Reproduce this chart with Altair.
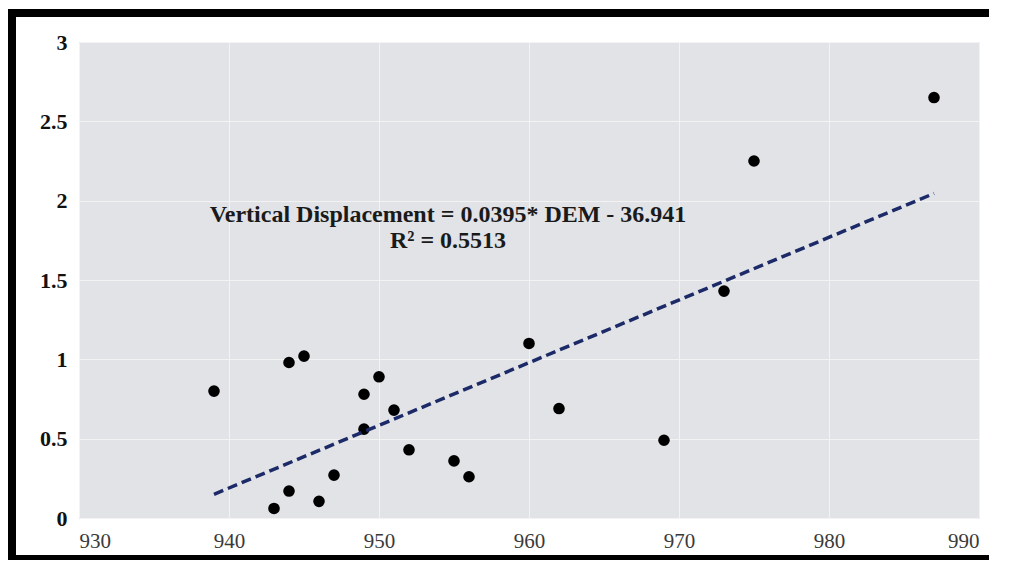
import altair as alt
import pandas as pd

# Data
dem = [939, 944, 945, 950, 949, 951, 949, 952, 955, 956, 947, 944, 946, 943,
       960, 962, 987, 975, 973, 969]
vdisp = [0.80, 0.98, 1.02, 0.89, 0.78, 0.68, 0.56, 0.43, 0.36, 0.26, 0.27, 0.17,
         0.105, 0.06, 1.10, 0.69, 2.65, 2.25, 1.43, 0.49]

slope = 0.0395
intercept = -36.941
x_ticks = [930, 940, 950, 960, 970, 980, 990]
y_ticks = [0, 0.5, 1, 1.5, 2, 2.5, 3]
eq_lines = ["Vertical Displacement = 0.0395* DEM - 36.941", "R² = 0.5513"]

pts = pd.DataFrame({"DEM": dem, "VD": vdisp})
xmin, xmax = min(dem), max(dem)
trend = pd.DataFrame({"DEM": [xmin, xmax],
                      "VD": [slope * xmin + intercept, slope * xmax + intercept]})
labels = pd.DataFrame({"DEM": [954.6, 954.6], "VD": [1.91, 1.745], "t": eq_lines})

W, H = 900, 476

xs = alt.Scale(domain=[930, 990], nice=False, zero=False)
ys = alt.Scale(domain=[0, 3], nice=False)

xaxis = alt.Axis(values=x_ticks, grid=True, gridColor="#f3f3f3", gridWidth=1,
                 domain=False, ticks=False, labelFont="Liberation Serif",
                 labelFontSize=21, labelColor="#3a3a3a", labelPadding=12, title=None)
yaxis = alt.Axis(values=y_ticks, grid=True, gridColor="#f3f3f3", gridWidth=1,
                 domain=False, ticks=False, labelFont="Liberation Serif",
                 labelFontSize=22, labelFontWeight="bold", labelColor="#111111",
                 labelPadding=12, title=None, format="~g")

base = alt.Chart(pts)

points = base.mark_point(filled=True, color="black", size=135, opacity=1).encode(
    x=alt.X("DEM:Q", scale=xs, axis=xaxis),
    y=alt.Y("VD:Q", scale=ys, axis=yaxis),
)

line = alt.Chart(trend).mark_line(color="#1c2a68", strokeWidth=3.5,
                                  strokeDash=[10, 5]).encode(
    x=alt.X("DEM:Q", scale=xs), y=alt.Y("VD:Q", scale=ys))

text = alt.Chart(labels).mark_text(font="Liberation Serif", fontSize=24,
                                   fontWeight="bold", color="#1a1a1a",
                                   align="center", baseline="middle").encode(
    x=alt.X("DEM:Q", scale=xs), y=alt.Y("VD:Q", scale=ys), text="t:N")

# decorative black frame (top, left, bottom) around the whole figure
frame_top = alt.Chart(pts).mark_rule(color="black", strokeWidth=8, clip=False).encode(
    x=alt.value(-71), x2=alt.value(912), y=alt.value(-29))
frame_left = alt.Chart(pts).mark_rule(color="black", strokeWidth=8, clip=False).encode(
    x=alt.value(-67), y=alt.value(-33), y2=alt.value(518))
frame_bottom = alt.Chart(pts).mark_rule(color="black", strokeWidth=5, clip=False).encode(
    x=alt.value(-71), x2=alt.value(912), y=alt.value(515.5))

chart = alt.layer(points, line, text, frame_top, frame_left, frame_bottom).properties(
    width=W, height=H,
    autosize=alt.AutoSizeParams(type="none"),
    padding={"left": 71, "top": 34, "right": 10, "bottom": 42},
    background="white",
).configure_view(
    fill="#e1e3e7", stroke="#c8c8c8", strokeWidth=1
)

chart.save("out.html", embed_options={"renderer": "svg", "actions": False})
